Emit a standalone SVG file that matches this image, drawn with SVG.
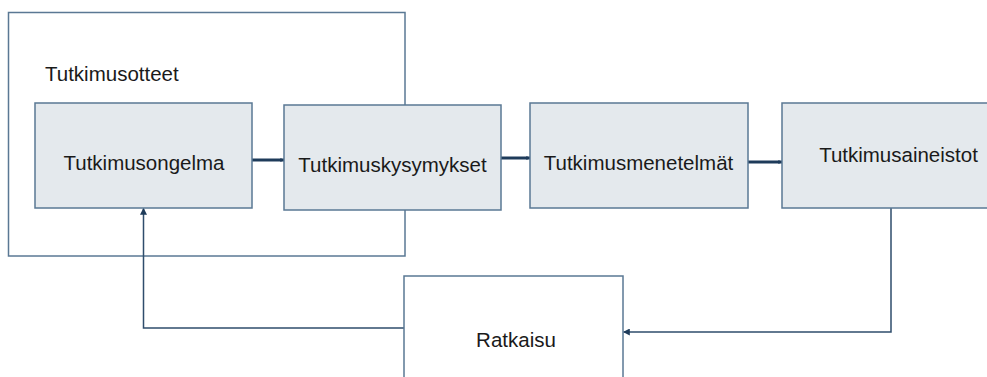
<svg xmlns="http://www.w3.org/2000/svg" width="987" height="377" viewBox="0 0 987 377">
  <defs>
    <style>
      .frame { fill: #ffffff; stroke: #5a7894; stroke-width: 1.5; }
      .box { fill: #e4e9ed; stroke: #5a7894; stroke-width: 1.5; }
      .label { font-family: "Liberation Sans", Arial, sans-serif; font-size: 20.5px; fill: #1a1a1a; }
      .thick { fill: none; stroke: #1e3b5a; stroke-width: 3; }
      .thin { fill: none; stroke: #2f4d6c; stroke-width: 1.5; }
    </style>
    <marker id="arrowHead" viewBox="0 0 10 10" refX="9" refY="5" markerWidth="4" markerHeight="4" orient="auto" markerUnits="userSpaceOnUse">
      <path d="M0,0 L10,5 L0,10 z" fill="#1e3b5a"/>
    </marker>
    <marker id="arrowThin" viewBox="0 0 10 10" refX="9" refY="5" markerWidth="7" markerHeight="7" orient="auto" markerUnits="userSpaceOnUse">
      <path d="M0,0 L10,5 L0,10 z" fill="#1e3b5a"/>
    </marker>
  </defs>

  <rect width="987" height="377" fill="#ffffff"/>

  <!-- research approaches frame -->
  <g id="tutkimusotteet">
    <rect class="frame" x="8.5" y="12.5" width="396.5" height="243.5"/>
    <text class="label" x="45" y="81">Tutkimusotteet</text>
  </g>

  <!-- connectors -->
  <g id="connectors">
    <line class="thick" x1="252" y1="160" x2="284" y2="160" marker-end="url(#arrowHead)"/>
    <line class="thick" x1="501" y1="158" x2="530" y2="158" marker-end="url(#arrowHead)"/>
    <line class="thick" x1="748" y1="162" x2="782" y2="162" marker-end="url(#arrowHead)"/>
    <polyline class="thin" points="891,208 891,332 623.5,332" marker-end="url(#arrowThin)"/>
    <polyline class="thin" points="404,328 143.5,328 143.5,208.5" marker-end="url(#arrowThin)"/>
  </g>

  <g id="tutkimusongelma">
    <rect class="box" x="35" y="103" width="217" height="105"/>
    <text class="label" x="144" y="170" text-anchor="middle">Tutkimusongelma</text>
  </g>

  <g id="tutkimuskysymykset">
    <rect class="box" x="284" y="105" width="217" height="105"/>
    <text class="label" x="392.5" y="172" text-anchor="middle">Tutkimuskysymykset</text>
  </g>

  <g id="tutkimusmenetelmat">
    <rect class="box" x="530" y="103" width="218" height="105"/>
    <text class="label" x="638.5" y="170" text-anchor="middle">Tutkimusmenetelmät</text>
  </g>

  <g id="tutkimusaineistot">
    <rect class="box" x="782" y="103" width="215" height="105"/>
    <text class="label" x="898.5" y="162" text-anchor="middle">Tutkimusaineistot</text>
  </g>

  <g id="ratkaisu">
    <rect class="frame" x="404" y="276" width="219" height="120"/>
    <text class="label" x="516" y="347" text-anchor="middle">Ratkaisu</text>
  </g>
</svg>
